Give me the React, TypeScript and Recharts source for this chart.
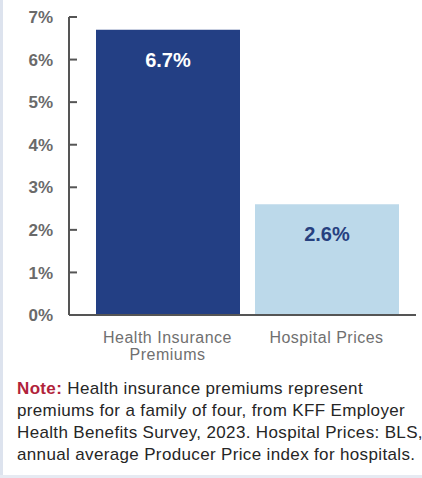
import React from "react";
import { BarChart, Bar, XAxis, YAxis, Cell, LabelList } from "recharts";

const categories = ["Health Insurance Premiums", "Hospital Prices"];
const growth = [6.7, 2.6];
const yTicks = [0, 1, 2, 3, 4, 5, 6, 7];

const barColors = ["#233f84", "#bcd9ea"];
const labelColors = ["#ffffff", "#26407f"];

const data = categories.map((name, i) => ({ name, value: growth[i] }));

const FONT = "'Liberation Sans', Arial, sans-serif";

const YTick = (props: any) => {
  const { x, y, payload } = props;
  return (
    <g>
      <text
        x={x}
        y={y}
        dy="0.36em"
        textAnchor="end"
        fill="#6a6a6a"
        fontSize={17}
        fontWeight="bold"
        fontFamily={FONT}
      >
        {payload.value}%
      </text>
      <line x1={x + 16} x2={x + 24} y1={y} y2={y} stroke="#555" strokeWidth={2} />
    </g>
  );
};

const XTick = (props: any) => {
  const { x, y, payload } = props;
  // split long category names onto two lines
  const words = String(payload.value).split(" ");
  const lines = words.length > 2 ? [words.slice(0, 2).join(" "), words.slice(2).join(" ")] : [words.join(" ")];
  return (
    <text
      x={x}
      y={y}
      textAnchor="middle"
      fill="#707070"
      fontSize={16}
      letterSpacing={0.5}
      fontFamily={FONT}
    >
      {lines.map((l, i) => (
        <tspan key={l} x={x} dy={i === 0 ? 28 : 17}>
          {l}
        </tspan>
      ))}
    </text>
  );
};

const ValueLabel = (props: any) => {
  const { x, y, width, value, index } = props;
  return (
    <text
      x={x + width / 2}
      y={y + 37}
      textAnchor="middle"
      fill={labelColors[index]}
      fontSize={20}
      fontWeight="bold"
      fontFamily={FONT}
    >
      {value}%
    </text>
  );
};

export default function App() {
  return (
    <div
      style={{
        position: "absolute",
        top: 0,
        left: 0,
        width: 422,
        height: 478,
        background: "#fff",
        overflow: "hidden",
      }}
    >
      <div style={{ position: "absolute", left: 0, top: 0, width: 3, height: 478, background: "#dde3ee" }} />
      <div style={{ position: "absolute", left: 0, bottom: 0, width: 422, height: 3, background: "#e6eaf2" }} />
      <div style={{ position: "absolute", left: 0, top: 0 }}>
        <BarChart
          width={422}
          height={370}
          data={data}
          margin={{ top: 17, right: 6, bottom: 0, left: 0 }}
          barCategoryGap={15}
        >
          <XAxis
            dataKey="name"
            height={55}
            axisLine={{ stroke: "#555", strokeWidth: 2 }}
            tickLine={false}
            tickSize={0}
            tickMargin={0}
            interval={0}
            padding={{ left: 19, right: 10 }}
            tick={<XTick />}
          />
          <YAxis
            width={69}
            domain={[0, 7]}
            ticks={yTicks}
            interval={0}
            axisLine={{ stroke: "#555", strokeWidth: 2 }}
            tickLine={false}
            tickSize={0}
            tickMargin={16}
            tick={<YTick />}
          />
          <Bar dataKey="value" barSize={144} isAnimationActive={false}>
            {data.map((d, i) => (
              <Cell key={d.name} fill={barColors[i]} />
            ))}
            <LabelList dataKey="value" content={<ValueLabel />} />
          </Bar>
        </BarChart>
      </div>
      <div
        style={{
          position: "absolute",
          left: 17,
          top: 378,
          width: 405,
          fontFamily: FONT,
          fontSize: 17,
          letterSpacing: 0.35,
          lineHeight: "22px",
          color: "#262626",
          whiteSpace: "nowrap",
        }}
      >
        <span style={{ color: "#b1233b", fontWeight: "bold" }}>Note:</span> Health insurance premiums represent
        <br />
        premiums for a family of four, from KFF Employer
        <br />
        Health Benefits Survey, 2023. Hospital Prices: BLS,
        <br />
        annual average Producer Price index for hospitals.
      </div>
    </div>
  );
}
